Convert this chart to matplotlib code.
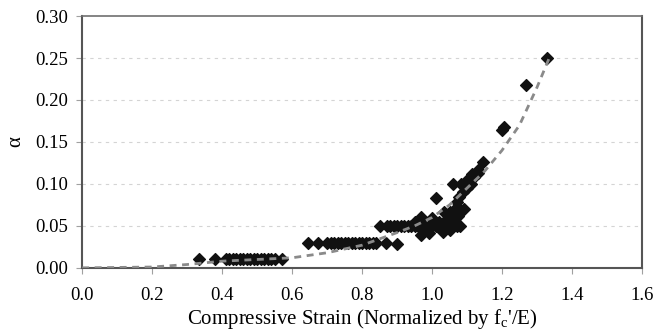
import numpy as np
import matplotlib.pyplot as plt

plt.rcParams['font.family'] = ['Liberation Serif', 'DejaVu Serif']
plt.rcParams['mathtext.fontset'] = 'custom'
plt.rcParams['mathtext.rm'] = 'Liberation Serif'

# measured points (strain normalized by fc'/E, alpha)
strain_01 = [0.335, 0.38, 0.41, 0.42, 0.43, 0.44, 0.45, 0.46, 0.47, 0.48, 0.49,
             0.50, 0.51, 0.52, 0.53, 0.54, 0.55, 0.57]
alpha_01 = [0.01] * len(strain_01)

strain_03 = [0.645, 0.675, 0.70, 0.71, 0.72, 0.73, 0.74, 0.75, 0.76, 0.77, 0.78,
             0.79, 0.80, 0.81, 0.82, 0.83, 0.84, 0.868, 0.90]
alpha_03 = [0.03] * 17 + [0.03, 0.028]

strain_05 = [0.85, 0.87, 0.88, 0.89, 0.90, 0.91, 0.92, 0.93, 0.94, 0.95, 0.96,
             0.97, 0.98, 0.99, 1.00, 1.01, 1.02, 1.03, 1.04, 1.05, 1.06, 1.07, 1.08]
alpha_05 = [0.05] * len(strain_05)

strain_rise = [0.968, 1.00, 0.968, 0.99, 1.03, 1.05, 1.01, 1.035, 1.06, 1.07,
               1.06, 1.083, 1.10, 1.12, 1.13, 1.13, 1.146, 1.077, 1.089, 1.10,
               1.07, 1.05, 1.045, 1.20, 1.206, 1.27, 1.33, 0.95, 0.98, 1.02,
               1.09, 1.11, 1.075, 1.115]
alpha_rise = [0.061, 0.06, 0.039, 0.042, 0.043, 0.045, 0.083, 0.067, 0.057, 0.073,
              0.10, 0.10, 0.105, 0.108, 0.113, 0.117, 0.126, 0.085, 0.09, 0.095,
              0.079, 0.067, 0.06, 0.164, 0.168, 0.218, 0.25, 0.055, 0.045, 0.055,
              0.07, 0.10, 0.062, 0.112]

# fitted curve
fit_x = [0.0, 0.2, 0.3, 0.4, 0.5, 0.6, 0.7, 0.8, 0.9, 0.95, 1.0, 1.05, 1.1,
         1.15, 1.2, 1.25, 1.3, 1.335]
fit_y = [0.0, 0.001, 0.004, 0.008, 0.010, 0.012, 0.018, 0.027, 0.042, 0.05,
         0.06, 0.075, 0.095, 0.115, 0.14, 0.17, 0.215, 0.25]

x = strain_01 + strain_03 + strain_05 + strain_rise
y = alpha_01 + alpha_03 + alpha_05 + alpha_rise

fig = plt.figure(figsize=(6.68, 3.34), dpi=100)
ax = fig.add_axes([0.123, 0.198, 0.838, 0.754])

for gy in np.arange(0.05, 0.26, 0.05):
    ax.axhline(gy, color='#d4d4d4', lw=0.8, ls=(0, (3, 4)), zorder=0)

ax.scatter(x, y, marker='D', s=36, color='#111111', zorder=3)
ax.plot(fit_x, fit_y, color='#8a8a8a', lw=2, ls=(0, (2.5, 2)), zorder=4)

ax.set_xlim(0, 1.6)
ax.set_ylim(0, 0.30)
ax.set_xticks(np.arange(0, 1.61, 0.2))
ax.set_yticks(np.arange(0, 0.31, 0.05))
ax.set_xticklabels(['%.1f' % v for v in np.arange(0, 1.61, 0.2)])
ax.set_yticklabels(['%.2f' % v for v in np.arange(0, 0.31, 0.05)])
ax.tick_params(labelsize=13.5, length=4, color='#a0a0a0')
ax.tick_params(axis='x', pad=10)
ax.tick_params(axis='y', pad=6)

for s in ['left', 'bottom', 'right']:
    ax.spines[s].set_color('#555555')
    ax.spines[s].set_linewidth(1.5)
ax.spines['top'].set_color('#707070')
ax.spines['top'].set_linewidth(1.2)

ax.set_xlabel("Compressive Strain (Normalized by f$_\\mathrm{c}$'/E)", fontsize=15, labelpad=2)
ax.set_ylabel('α', fontsize=15, labelpad=7)

fig.savefig('out.png', dpi=100)
